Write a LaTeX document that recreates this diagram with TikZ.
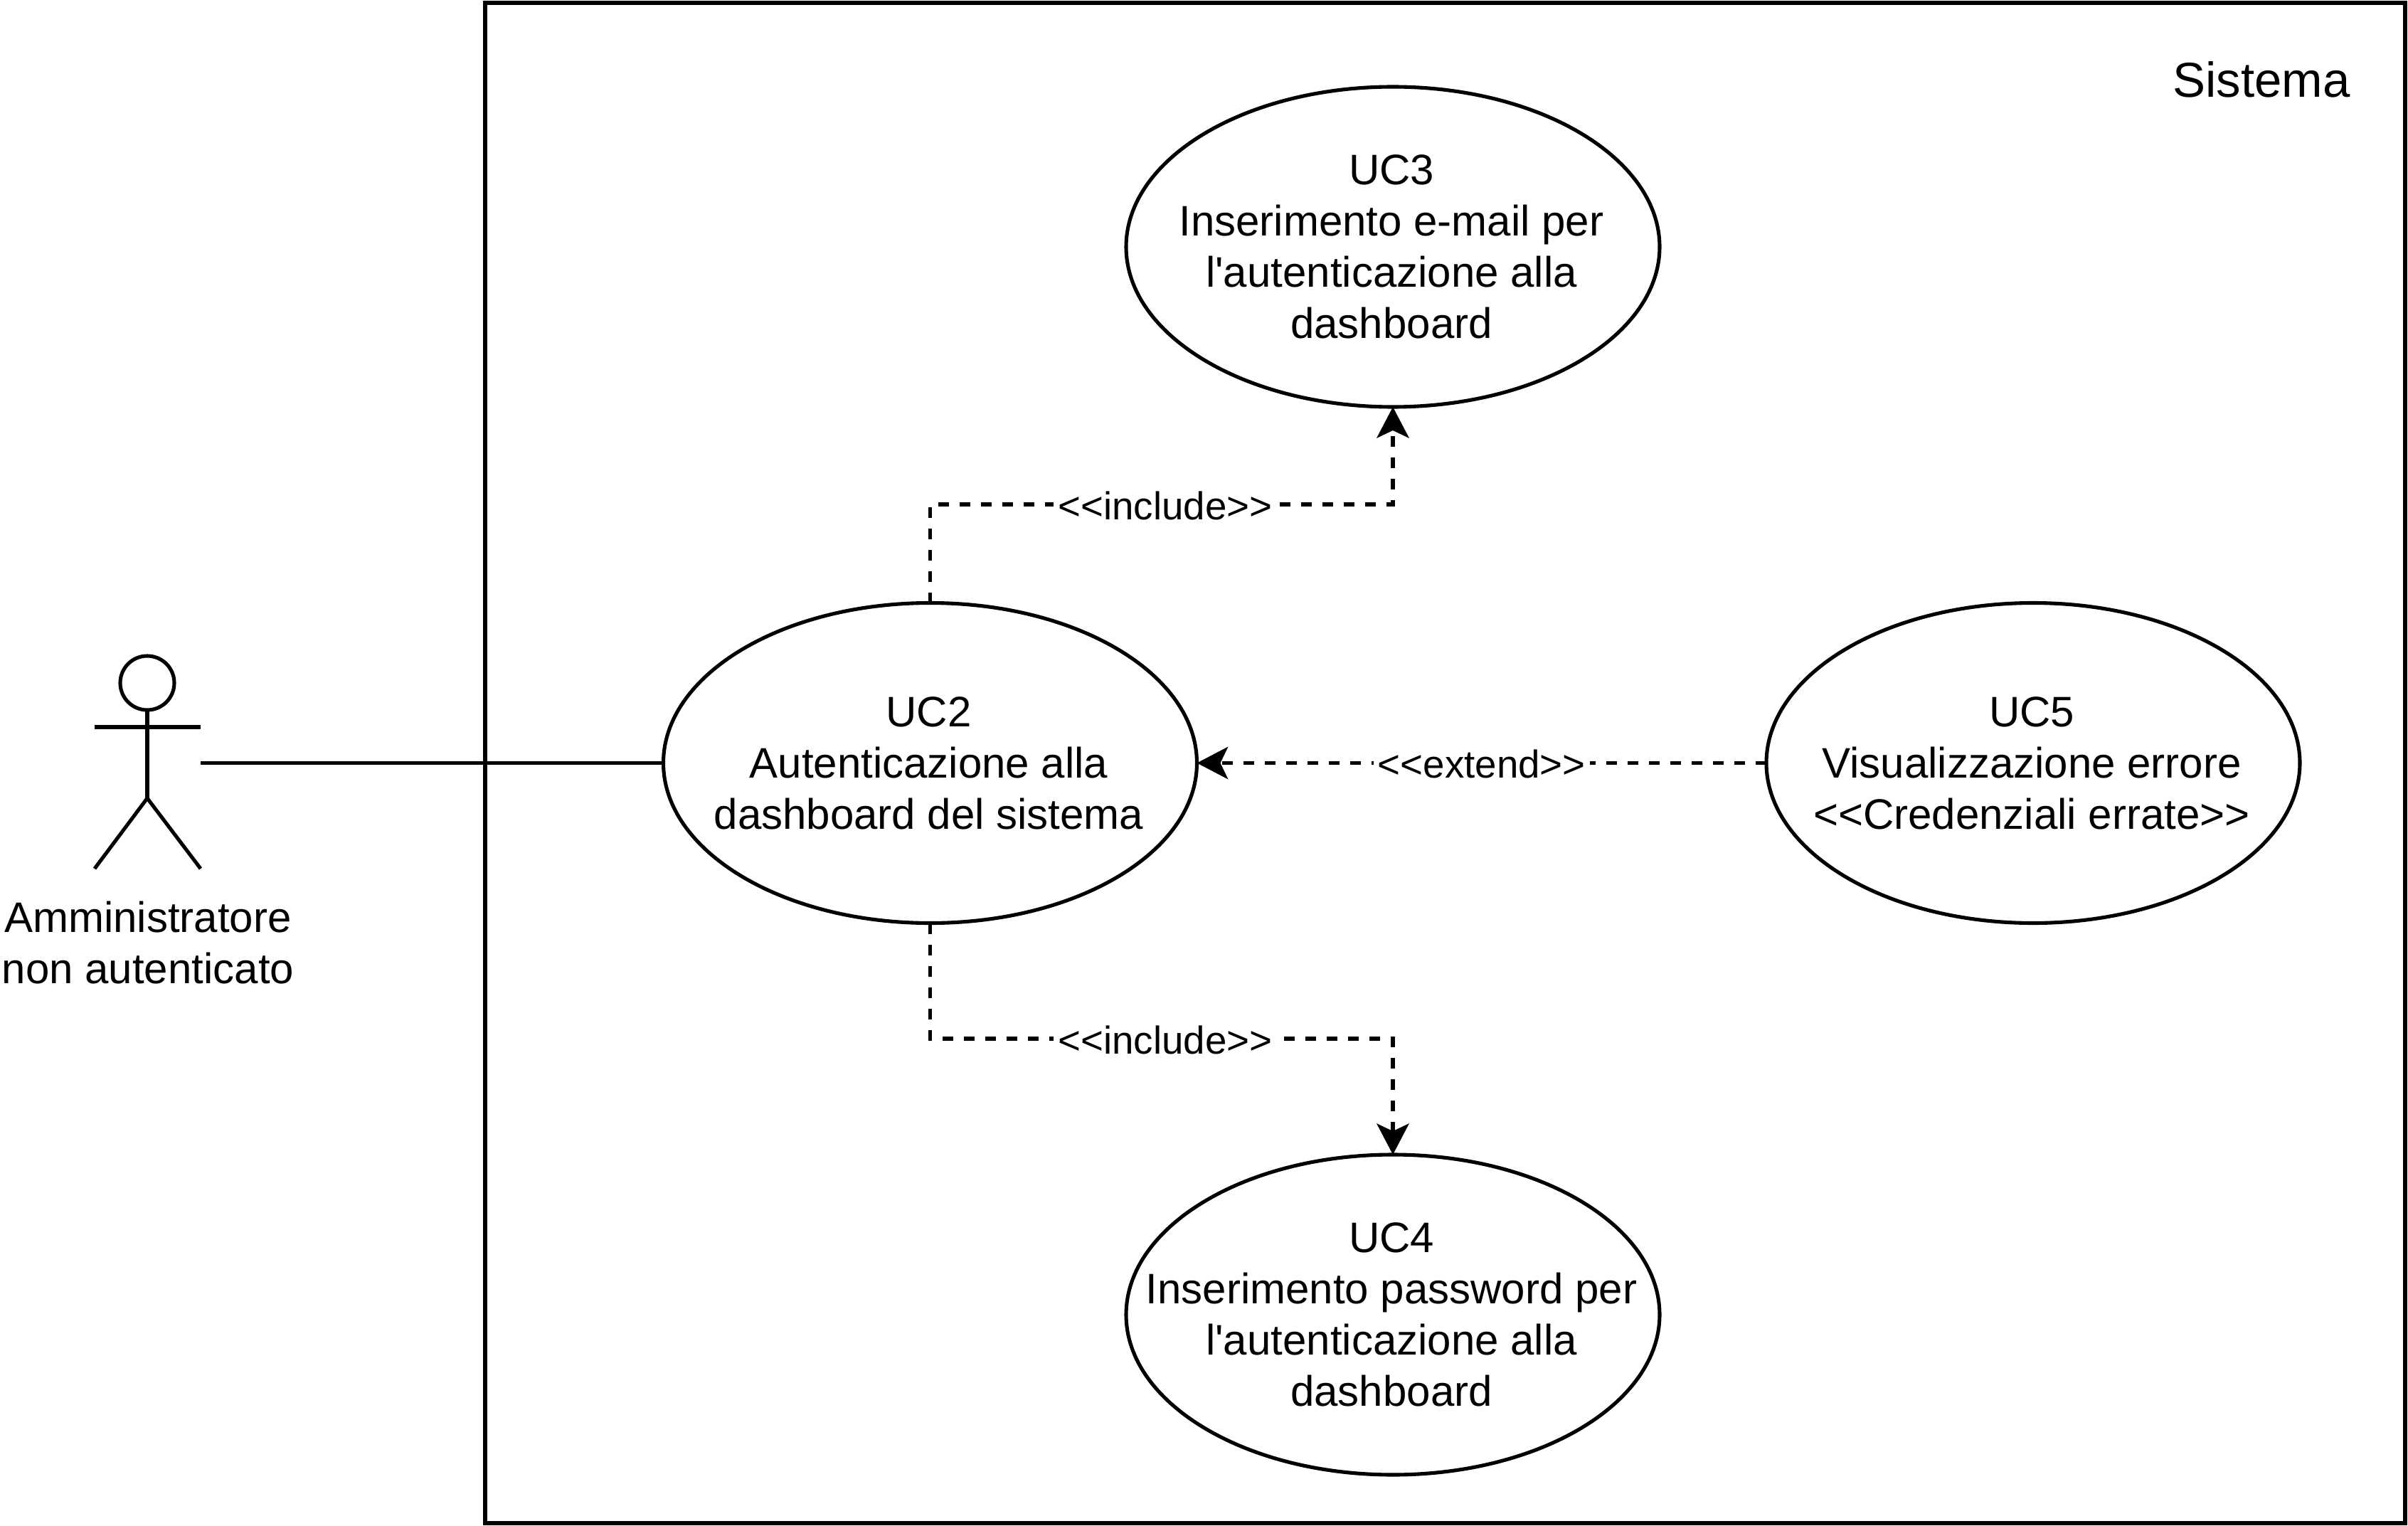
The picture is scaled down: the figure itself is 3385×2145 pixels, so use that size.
\documentclass[tikz,border=0pt]{standalone}
\usepackage{fontspec}
\setmainfont{Liberation Sans}
\usetikzlibrary{shapes.geometric,arrows.meta}
\tikzset{
  ink/.style={line width=2.55pt,black},
  usecase/.style={ellipse,ink,draw,minimum width=375pt,minimum height=225pt,inner sep=0pt,outer sep=0pt},
  uctext/.style={align=center,font=\fontsize{30}{36}\selectfont,inner sep=0pt},
  uclabel/.style={uctext,xshift=-1pt},
  relation/.style={ink,dash pattern=on 7.5pt off 7.5pt,-{Stealth[length=22pt,width=23pt,inset=5.5pt,line width=0pt]}},
  rellabel/.style={fill=white,inner xsep=3pt,inner ysep=0pt,yshift=-0.8pt,font=\fontsize{27.35}{32}\selectfont,text=black},
}
\begin{document}
\begin{tikzpicture}[x=0.5pt,y=-0.5pt]
\useasboundingbox (0,0) rectangle (3385,2145);
\node[ink,draw,rectangle,minimum width=1349.5pt,minimum height=1068.5pt,inner sep=0pt,outer sep=0pt,anchor=north west] (sys) at (682,4) {};
\node[anchor=base,font=\fontsize{34.5}{41}\selectfont,inner sep=0pt] (systitle) at (3179,137) {Sistema};

\node[usecase,label={[uclabel]center:{UC2\\Autenticazione alla\\dashboard del sistema}}] (uc2) at (1307.5,1072.5) {};
\node[usecase,label={[uclabel]center:{UC3\\Inserimento e-mail per\\l\textquotesingle autenticazione alla\\dashboard}}] (uc3) at (1958,347) {};
\node[usecase,label={[uclabel]center:{UC4\\Inserimento password per\\l\textquotesingle autenticazione alla\\dashboard}}] (uc4) at (1958,1848) {};
\node[usecase,label={[uclabel]center:{UC5\\Visualizzazione errore\\<{}<Credenziali errate>{}>}}] (uc5) at (2858,1072.5) {};

% actor
\node[ink,draw,circle,minimum size=38pt,inner sep=0pt,outer sep=0pt] (head) at (207,960) {};
\coordinate (hip) at (207,1122);
\coordinate (armL) at (133,1022);
\coordinate (armR) at (282,1022);
\coordinate (footL) at (133,1221);
\coordinate (footR) at (282,1221);
\coordinate (actorside) at (282,1072.5);
\draw[ink] (head.south) -- (hip);
\draw[ink] (armL) -- (armR);
\draw[ink] (footL) -- (hip) -- (footR);
\node[uctext,anchor=north] (actorname) at (208,1267) {Amministratore\\non autenticato};

\draw[ink] (actorside) -- (uc2.west);

\coordinate (m3) at (1638,709);
\coordinate (m4) at (1638,1460);
\draw[relation] (uc2.north) |- (m3) -| (uc3.south);
\node[rellabel] (inc3) at (m3) {<{}<include>{}>};
\draw[relation] (uc2.south) |- (m4) -| (uc4.north);
\node[rellabel] (inc4) at (m4) {<{}<include>{}>};
\draw[relation] (uc5.west) -- (uc2.east) node[pos=0.5,rellabel] (ext) {<{}<extend>{}>};
\end{tikzpicture}
\end{document}
